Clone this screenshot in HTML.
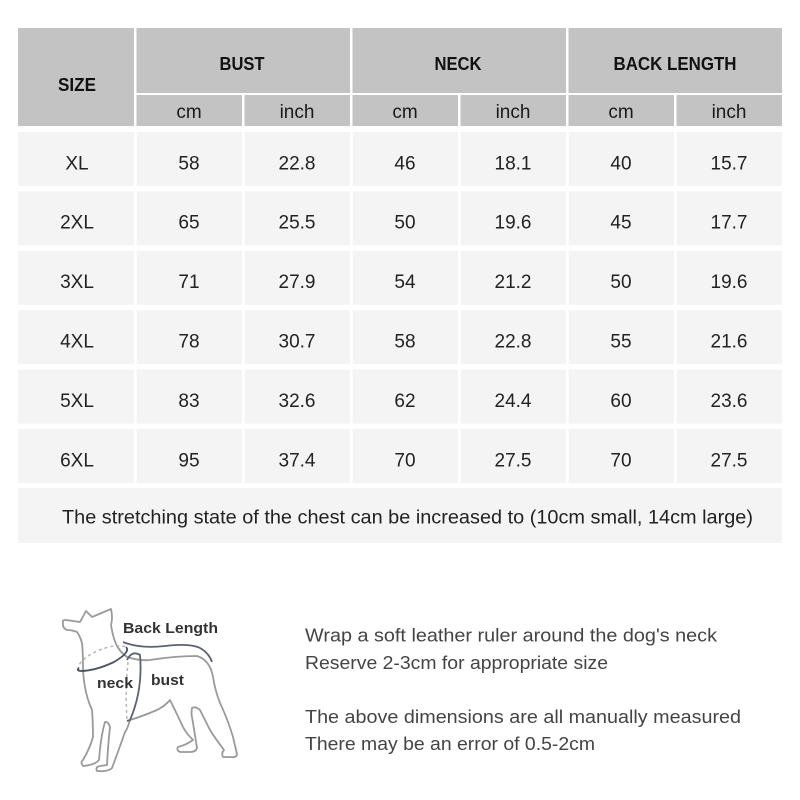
<!DOCTYPE html>
<html>
<head>
<meta charset="utf-8">
<style>
html,body{margin:0;padding:0;background:#fff;}
svg{display:block;}
text{font-family:"Liberation Sans",Arial,sans-serif;}
</style>
</head>
<body>
<svg width="800" height="800" viewBox="0 0 800 800" xmlns="http://www.w3.org/2000/svg">
<defs>
<g id="r"><rect x="18" y="0" width="116" height="54"/><rect x="136.5" y="0" width="105.5" height="54"/><rect x="244.5" y="0" width="105.5" height="54"/><rect x="352.5" y="0" width="105.5" height="54"/><rect x="460.5" y="0" width="105.5" height="54"/><rect x="568.5" y="0" width="105.5" height="54"/><rect x="676.5" y="0" width="105.5" height="54"/></g>
</defs>
<rect width="800" height="800" fill="#fff"/>
<!-- header cells -->
<g fill="#c3c3c3">
<rect x="18" y="28" width="116" height="98"/>
<rect x="136.5" y="28" width="213.5" height="65"/>
<rect x="352.5" y="28" width="213.5" height="65"/>
<rect x="568.5" y="28" width="213.5" height="65"/>
<rect x="136.5" y="95" width="105.5" height="31"/>
<rect x="244.5" y="95" width="105.5" height="31"/>
<rect x="352.5" y="95" width="105.5" height="31"/>
<rect x="460.5" y="95" width="105.5" height="31"/>
<rect x="568.5" y="95" width="105.5" height="31"/>
<rect x="676.5" y="95" width="105.5" height="31"/>
</g>
<g font-weight="bold" fill="#111" font-size="18" text-anchor="middle">
<text x="77" y="91" textLength="38" lengthAdjust="spacingAndGlyphs">SIZE</text>
<text x="242" y="70" textLength="45" lengthAdjust="spacingAndGlyphs">BUST</text>
<text x="458" y="70" textLength="47" lengthAdjust="spacingAndGlyphs">NECK</text>
<text x="675" y="70" textLength="123" lengthAdjust="spacingAndGlyphs">BACK LENGTH</text>
</g>
<g fill="#1a1a1a" font-size="19" text-anchor="middle">
<text x="189" y="118">cm</text><text x="297" y="118">inch</text>
<text x="405" y="118">cm</text><text x="513" y="118">inch</text>
<text x="621" y="118">cm</text><text x="729" y="118">inch</text>
</g>
<!-- data rows -->
<g fill="#f4f4f4">
<use href="#r" y="132"/>
<use href="#r" y="191.4"/>
<use href="#r" y="250.8"/>
<use href="#r" y="310.2"/>
<use href="#r" y="369.6"/>
<use href="#r" y="429"/>
<rect x="18" y="488" width="764" height="55"/>
</g>
<g fill="#222" font-size="19" text-anchor="middle">
<text y="169.3"><tspan x="77">XL</tspan><tspan x="189">58</tspan><tspan x="297">22.8</tspan><tspan x="405">46</tspan><tspan x="513">18.1</tspan><tspan x="621">40</tspan><tspan x="729">15.7</tspan></text>
<text y="228.7"><tspan x="77">2XL</tspan><tspan x="189">65</tspan><tspan x="297">25.5</tspan><tspan x="405">50</tspan><tspan x="513">19.6</tspan><tspan x="621">45</tspan><tspan x="729">17.7</tspan></text>
<text y="288.1"><tspan x="77">3XL</tspan><tspan x="189">71</tspan><tspan x="297">27.9</tspan><tspan x="405">54</tspan><tspan x="513">21.2</tspan><tspan x="621">50</tspan><tspan x="729">19.6</tspan></text>
<text y="347.5"><tspan x="77">4XL</tspan><tspan x="189">78</tspan><tspan x="297">30.7</tspan><tspan x="405">58</tspan><tspan x="513">22.8</tspan><tspan x="621">55</tspan><tspan x="729">21.6</tspan></text>
<text y="406.9"><tspan x="77">5XL</tspan><tspan x="189">83</tspan><tspan x="297">32.6</tspan><tspan x="405">62</tspan><tspan x="513">24.4</tspan><tspan x="621">60</tspan><tspan x="729">23.6</tspan></text>
<text y="466.3"><tspan x="77">6XL</tspan><tspan x="189">95</tspan><tspan x="297">37.4</tspan><tspan x="405">70</tspan><tspan x="513">27.5</tspan><tspan x="621">70</tspan><tspan x="729">27.5</tspan></text>
</g>
<text x="62" y="523.5" font-size="19" fill="#222" textLength="691" lengthAdjust="spacingAndGlyphs">The stretching state of the chest can be increased to (10cm small, 14cm large)</text>

<!-- bottom text -->
<g fill="#444" font-size="18.5">
<text x="305" y="641.5" textLength="412" lengthAdjust="spacingAndGlyphs">Wrap a soft leather ruler around the dog's neck</text>
<text x="305" y="669" textLength="303" lengthAdjust="spacingAndGlyphs">Reserve 2-3cm for appropriate size</text>
<text x="305" y="723" textLength="436" lengthAdjust="spacingAndGlyphs">The above dimensions are all manually measured</text>
<text x="305" y="750" textLength="290" lengthAdjust="spacingAndGlyphs">There may be an error of 0.5-2cm</text>
</g>

<!-- dog -->
<g fill="none" stroke="#9a9a9a" stroke-width="1.8" stroke-linejoin="round" stroke-linecap="round">
<path d="M63,622 Q62,620 66,620 L80,622 L86,611 L92,617 L111,609 Q113,618 111,625 Q113,638 117,646 Q121,653 127,657 Q140,661 150,660 Q175,656 197,656 Q210,660 213,677 Q215,690 220,703 Q228,720 233,737 L237,754 Q237,758 230,757 L223,757 Q221,753 224,750 Q215,738 210,730 Q204,718 200,710 Q195,706 192,708 Q191,714 192,717 Q195,735 197,748 Q196,752 190,752 L180,752 Q176,750 178,747 Q186,745 193,740 Q186,733 183,727 Q176,712 170,700 Q165,706 157,710 Q143,716 130,720 Q127,730 125,732 Q118,752 112,768 Q108,772 97,771 Q95,767 100,766 L107,765 Q108,745 110,727 Q108,721 105,722 Q101,735 99,760 Q95,765 83,766 Q80,762 83,760 Q90,748 93,737 Q93,722 92,710 Q87,699 85,687 Q83,676 83,667 Q83,652 82,643 Q80,636 77,632 Q72,630 67,630 Q62,628 63,622 Z"/>
</g>
<!-- back length arc -->
<path d="M123,642 Q140,649 165,646 Q190,643 200,648 Q209,653 212,662" fill="none" stroke="#5c6270" stroke-width="1.8"/>
<!-- neck collar -->
<path d="M79,670 Q76,662 95,652 Q115,643 126,647" fill="none" stroke="#b5b5b5" stroke-width="1.5" stroke-dasharray="3,3"/>
<path d="M126,647 Q131,652 114,662 Q95,671 80,671 Q76,670 79,668" fill="none" stroke="#4c5260" stroke-width="1.8"/>
<!-- bust -->
<path d="M128,662 Q125,690 127,720" fill="none" stroke="#b5b5b5" stroke-width="1.5" stroke-dasharray="3,3"/>
<path d="M127,660 Q132,650 140,655 Q143,690 130,720 L127,721" fill="none" stroke="#5c6270" stroke-width="1.8"/>
<g fill="#333" font-weight="bold" font-size="15">
<text x="123" y="633" textLength="95" lengthAdjust="spacingAndGlyphs">Back Length</text>
<text x="97" y="688" textLength="36" lengthAdjust="spacingAndGlyphs">neck</text>
<text x="151" y="685" textLength="33" lengthAdjust="spacingAndGlyphs">bust</text>
</g>
</svg>
</body>
</html>
